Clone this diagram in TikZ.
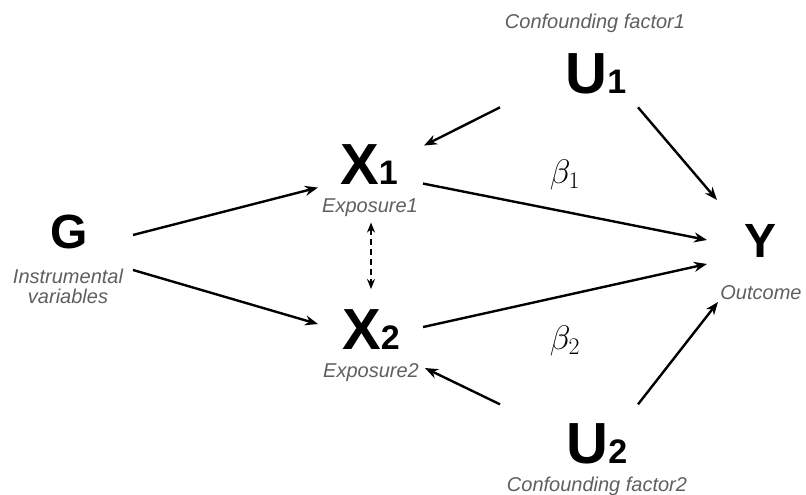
\RequirePackage{fix-cm}
\documentclass[tikz,border=0pt]{standalone}
\usepackage{fontspec}
\setmainfont{Liberation Sans}
\usepackage{xcolor}
\definecolor{labgray}{RGB}{95,95,95}
\usetikzlibrary{arrows.meta}

\newcommand{\varsub}[2]{#1{\fontsize{34}{34}\selectfont #2}}

\begin{document}
\begin{tikzpicture}[x=1pt, y=-1pt, >={Stealth[length=13pt,width=10pt]},
  var/.style={inner sep=0pt, anchor=base, font=\fontsize{58}{58}\selectfont\bfseries},
  smallvar/.style={var, font=\fontsize{48}{48}\selectfont\bfseries},
  lab/.style={inner sep=0pt, anchor=base, text=labgray, font=\fontsize{20}{20}\selectfont\itshape},
  coef/.style={inner sep=0pt, anchor=base, font=\fontsize{34}{40}\selectfont},
  arr/.style={->, line width=2.4pt}]
\useasboundingbox (0,0) rectangle (806,495);

\node[smallvar] (G) at (69,248) {G};
\node[var] (X1) at (369,184) {\varsub{X}{1}};
\node[var] (X2) at (371,349) {\varsub{X}{2}};
\node[smallvar] (Y) at (760,257) {Y};
\node[var] (U1) at (596,93) {\varsub{U}{1}};
\node[var] (U2) at (597,463) {\varsub{U}{2}};

\node[lab, anchor=center, align=center] (labG) at (68,286) {Instrumental\\variables};
\node[lab] (labX1) at (370,212) {Exposure1};
\node[lab] (labX2) at (371,377) {Exposure2};
\node[lab] (labY) at (761,299) {Outcome};
\node[lab] (labU1) at (595,29) {Confounding factor1};
\node[lab] (labU2) at (597,491) {Confounding factor2};

\node[coef] (b1) at (565,183) {$\beta_1$};
\node[coef] (b2) at (565,349) {$\beta_2$};

\draw[arr] ([shift={(64,3.5)}]G.center) -- ([shift={(-51,23.5)}]X1.center);
\draw[arr] ([shift={(64,38.5)}]G.center) -- ([shift={(-53,-5)}]X2.center);
\draw[arr] ([shift={(54,19.5)}]X1.center) -- ([shift={(-53,-0.5)}]Y.center);
\draw[arr] ([shift={(52,-2)}]X2.center) -- ([shift={(-53,23.5)}]Y.center);
\draw[arr] ([shift={(-96,34)}]U1.center) -- ([shift={(55,-18.5)}]X1.center);
\draw[arr] ([shift={(42,34)}]U1.center) -- ([shift={(-43,-40.5)}]Y.center);
\draw[arr] ([shift={(-97,-39)}]U2.center) -- ([shift={(54,39)}]X2.center);
\draw[arr] ([shift={(41,-39)}]U2.center) -- ([shift={(-42,61.5)}]Y.center);
\draw[<->, >={Stealth[length=10pt,width=8pt]}, line width=2pt, dash pattern=on 6pt off 4pt]
  ([shift={(2,58.5)}]X1.center) -- ([shift={(0,-40)}]X2.center);
\end{tikzpicture}
\end{document}
